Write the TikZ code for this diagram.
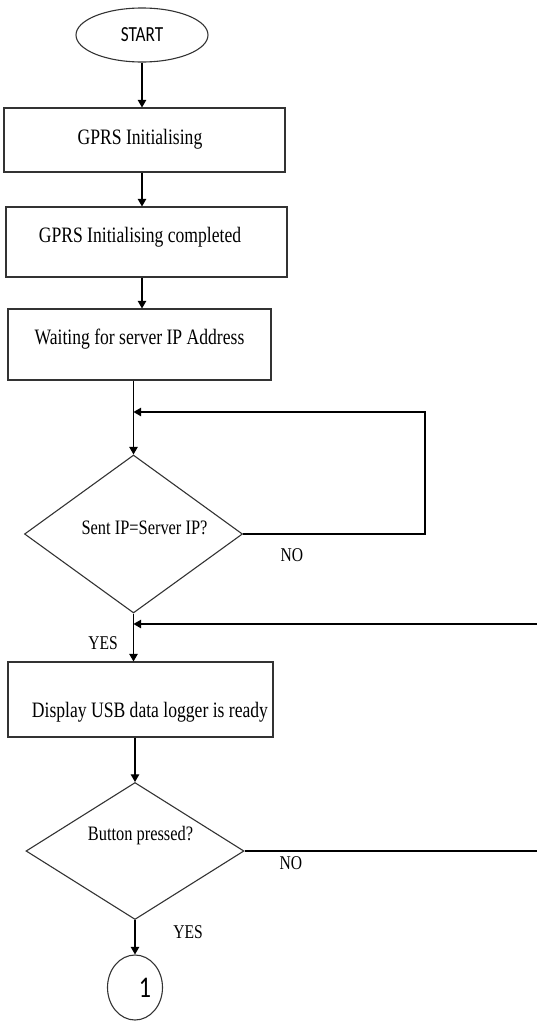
\documentclass[tikz,border=0pt]{standalone}
\usepackage{fontspec}
\setmainfont{Liberation Serif}[FakeStretch=0.8]
\newfontfamily\calibri{Carlito}[FakeStretch=0.8]
\usetikzlibrary{arrows,shapes.geometric}

\begin{document}
\begin{tikzpicture}[x=1pt,y=-1pt,>=triangle 60,line width=1.1pt,
    box/.style={shape=rectangle,draw=black!80,inner sep=0pt,text height=15pt,text depth=5pt,font=\fontsize{22}{26}\selectfont},
    decision/.style={shape=diamond,draw=black!80,inner sep=0pt,shape aspect=1.6,text height=15pt,text depth=5pt,font=\fontsize{20.5}{24}\selectfont},
    term/.style={shape=ellipse,draw=black!80,inner sep=0pt},
    answer/.style={font=\fontsize{19.5}{23}\selectfont}]
    \useasboundingbox (0,0) rectangle (537,1021);
    \node[term,minimum width=132,minimum height=54,font=\calibri\fontsize{21.5}{25}\selectfont] (start) at (142,35) {START};
    \node[box,minimum width=281,minimum height=64,text depth=7pt] (init) at (144.5,140) {GPRS Initialising\hspace*{9pt}};
    \node[box,minimum width=281,minimum height=70,text depth=14.4pt] (done) at (146.5,242) {GPRS Initialising completed\hspace*{13pt}};
    \node[box,minimum width=263,minimum height=71,text depth=15.4pt] (wait) at (139.5,344.5) {Waiting for server IP Address};
    \node[decision,minimum width=218,minimum height=158,text depth=13.4pt] (check) at (133.5,534) {\hspace*{22pt}Sent IP=Server IP?};
    \node[box,minimum width=265,minimum height=75,text height=40.6pt] (ready) at (140.5,699.5) {\hspace*{19pt}Display USB data logger is ready};
    \node[decision,minimum width=218,minimum height=137,text depth=35.8pt] (button) at (135,851) {\hspace*{11pt}Button pressed?};
    \node[term,minimum width=55,minimum height=65,font=\calibri\fontsize{30}{34}\selectfont] (1) at (135,987.5) {\hspace*{20pt}1};
    \node[answer] (no1) at (292,555) {NO};
    \node[answer] (yes1) at (103,643) {YES};
    \node[answer] (no2) at (291,863) {NO};
    \node[answer] (yes2) at (188,932) {YES};
    \coordinate (back1) at (133.5,412);
    \coordinate (loop1) at (425,412);
    \coordinate (back2) at (133.5,624);
    \coordinate (loop2) at (537,624);
    % main flow
    \draw[->] (start) -- (start |- init.north);
    \draw[->] (init.south -| start) -- (done.north -| start);
    \draw[->] (done.south -| start) -- (wait.north -| start);
    \draw[->] (wait.south -| check) -- (check.north);
    \draw[->] (check.south) -- (check.south |- ready.north);
    \draw[->] (ready.south -| button) -- (button.north);
    \draw[->] (button.south) -- (1);
    % loops back
    \draw[->] (check.east) -| (loop1) -- (back1);
    \draw[->] (loop2) -- (back2);
    \draw (button.east) -- (button.east -| loop2);
\end{tikzpicture}
\end{document}
